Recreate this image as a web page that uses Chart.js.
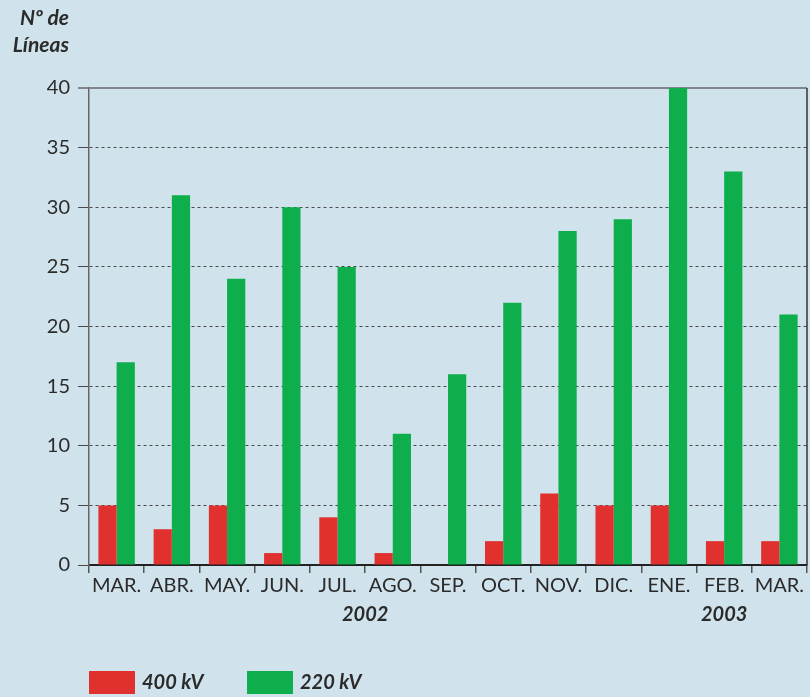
<!DOCTYPE html>
<html>
<head>
<meta charset="utf-8">
<script src="https://cdn.jsdelivr.net/npm/chart.js@4.4.0/dist/chart.umd.min.js"></script>
<style>
  html, body { margin: 0; padding: 0; background: #d0e3ec; }
  #wrap { width: 810px; height: 697px; }
</style>
</head>
<body>
<div id="wrap"><canvas id="lineas"></canvas></div>
<script>
const meses = ["MAR.", "ABR.", "MAY.", "JUN.", "JUL.", "AGO.", "SEP.", "OCT.", "NOV.", "DIC.", "ENE.", "FEB.", "MAR."];
const lineas400 = [5, 3, 5, 1, 4, 1, 0, 2, 6, 5, 5, 2, 2];
const lineas220 = [17, 31, 24, 30, 25, 11, 16, 22, 28, 29, 40, 33, 21];
const serieNombres = ["400 kV", "220 kV"];
const serieColores = ["#e0312e", "#0dae4b"];
const anios = [{ texto: "2002", entre: [4, 5] }, { texto: "2003", entre: [11, 11] }];

const fuente = "Lato, 'Open Sans', sans-serif";
const colorTexto = "#2b2b2b";

// textos extra: titulo del eje, años y leyenda
const extras = {
    id: "extras",
    afterDraw(chart) {
        const ctx = chart.ctx;
        const area = chart.chartArea;
        const x = chart.scales.x;
        ctx.save();

        // borde derecho
        ctx.strokeStyle = "#333";
        ctx.lineWidth = 1.5;
        ctx.beginPath();
        ctx.moveTo(area.right, area.top);
        ctx.lineTo(area.right, area.bottom);
        ctx.stroke();

        ctx.fillStyle = colorTexto;
        ctx.font = "italic bold 21px " + fuente;
        ctx.textAlign = "right";
        ctx.textBaseline = "middle";
        ctx.fillText("Nº de", 69, 18);
        ctx.fillText("Líneas", 69, 45);

        ctx.font = "italic bold 20px " + fuente;
        ctx.textAlign = "center";
        anios.forEach((a) => {
            const cx = (x.getPixelForValue(a.entre[0]) + x.getPixelForValue(a.entre[1])) / 2;
            ctx.fillText(a.texto, cx, 615);
        });

        // leyenda
        const posLeyenda = [89, 247];
        ctx.textAlign = "left";
        serieNombres.forEach((nombre, i) => {
            ctx.fillStyle = serieColores[i];
            ctx.fillRect(posLeyenda[i], 671, 46, 23);
            ctx.fillStyle = colorTexto;
            ctx.fillText(nombre, posLeyenda[i] + 53, 683);
        });
        ctx.restore();
    },
};

new Chart(document.getElementById("lineas"), {
    type: "bar",
    data: {
        labels: meses,
        datasets: [
            {
                label: serieNombres[0],
                data: lineas400,
                backgroundColor: serieColores[0],
                categoryPercentage: 0.66,
                barPercentage: 1,
            },
            {
                label: serieNombres[1],
                data: lineas220,
                backgroundColor: serieColores[1],
                categoryPercentage: 0.66,
                barPercentage: 1,
            },
        ],
    },
    options: {
        responsive: true,
        maintainAspectRatio: false,
        animation: false,
        layout: {
            padding: { top: 88, right: 3, left: 0, bottom: 0 },
        },
        plugins: {
            legend: { display: false },
            tooltip: { enabled: false },
        },
        scales: {
            x: {
                grid: {
                    offset: true,
                    drawOnChartArea: false,
                    tickLength: 8,
                    color: "#555",
                    lineWidth: 1.5,
                },
                border: { color: "#222", width: 2 },
                ticks: {
                    color: colorTexto,
                    padding: 1,
                    font: { family: fuente, size: 20 },
                    maxRotation: 0,
                    autoSkip: false,
                },
                afterFit: (scale) => {
                    scale.height = 132;
                },
            },
            y: {
                min: 0,
                max: 40,
                ticks: {
                    stepSize: 5,
                    color: colorTexto,
                    padding: 8,
                    font: { family: fuente, size: 20 },
                },
                grid: {
                    tickLength: 11,
                    color: (c) => (c.tick && c.tick.value === 40 ? "#80868b" : "#4a4a4a"),
                    lineWidth: (c) => (c.tick && c.tick.value === 40 ? 2 : 1),
                },
                border: {
                    color: "#666",
                    width: 1.5,
                    dash: (c) => (c.tick && (c.tick.value === 40 || c.tick.value === 0) ? [] : [3, 3]),
                },
                afterFit: (scale) => {
                    scale.width = 89;
                },
            },
        },
    },
    plugins: [extras],
});
</script>
</body>
</html>
